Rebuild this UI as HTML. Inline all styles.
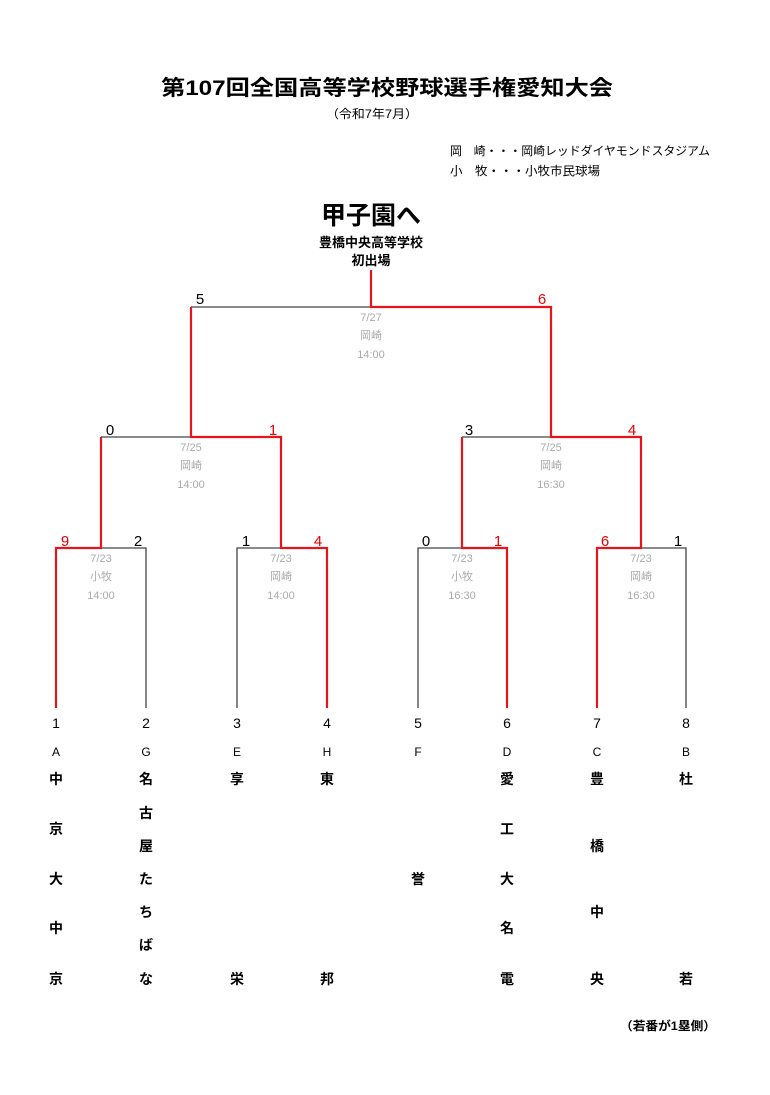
<!DOCTYPE html>
<html><head><meta charset="utf-8">
<style>
html,body{margin:0;padding:0;background:#fff;}
svg{display:block;}
text{font-family:"Liberation Sans","Noto Sans CJK JP",sans-serif;}
.b{font-weight:bold;}
.g{fill:#aaa;font-size:11px;text-anchor:middle;}
.s{font-size:15px;}
.r{fill:#e00;}
.n{font-size:14px;font-weight:bold;text-anchor:middle;}
.c{font-size:14px;text-anchor:middle;}
.l{font-size:12px;text-anchor:middle;}
</style></head><body>
<svg width="770" height="1095" viewBox="0 0 770 1095" xmlns="http://www.w3.org/2000/svg">
<text x="161" y="95" class="b" font-size="21" textLength="452" lengthAdjust="spacingAndGlyphs">第107回全国高等学校野球選手権愛知大会</text>
<text x="326" y="118" font-size="12" textLength="92" lengthAdjust="spacingAndGlyphs">（令和7年7月）</text>
<text x="450" y="155" font-size="12" textLength="260" lengthAdjust="spacingAndGlyphs">岡　崎・・・岡崎レッドダイヤモンドスタジアム</text>
<text x="450" y="175" font-size="12" textLength="150" lengthAdjust="spacingAndGlyphs">小　牧・・・小牧市民球場</text>

<text x="371" y="224" class="b" font-size="25" text-anchor="middle">甲子園へ</text>
<text x="371" y="247" class="b" font-size="13" text-anchor="middle">豊橋中央高等学校</text>
<text x="371" y="265" class="b" font-size="13" text-anchor="middle">初出場</text>

<g stroke="#444" stroke-width="1.3" fill="none">
<!-- first round boxes (black parts) -->
<path d="M56 548 H146 V708"/>
<path d="M237 708 V548 H327"/>
<path d="M418 708 V548 H507"/>
<path d="M597 548 H686 V708"/>
<path d="M101 437 H191"/>
<path d="M462 437 H551"/>
<path d="M191 307 H371"/>
</g>
<g stroke="#e8141b" stroke-width="2.2" fill="none">
<path d="M56 708 V548 H101 V437"/>
<path d="M327 708 V548 H281 V437 H191 V307"/>
<path d="M507 708 V548 H462 V437"/>
<path d="M597 708 V548 H641 V437 H551 V307 H371 V270"/>
</g>

<!-- scores -->
<text x="200" y="304" class="s" text-anchor="middle">5</text>
<text x="542" y="304" class="s r" text-anchor="middle">6</text>
<text x="110" y="435" class="s" text-anchor="middle">0</text>
<text x="273" y="435" class="s r" text-anchor="middle">1</text>
<text x="469" y="435" class="s" text-anchor="middle">3</text>
<text x="632" y="435" class="s r" text-anchor="middle">4</text>
<text x="65" y="546" class="s r" text-anchor="middle">9</text>
<text x="138" y="546" class="s" text-anchor="middle">2</text>
<text x="246" y="546" class="s" text-anchor="middle">1</text>
<text x="318" y="546" class="s r" text-anchor="middle">4</text>
<text x="426" y="546" class="s" text-anchor="middle">0</text>
<text x="498" y="546" class="s r" text-anchor="middle">1</text>
<text x="605" y="546" class="s r" text-anchor="middle">6</text>
<text x="678" y="546" class="s" text-anchor="middle">1</text>

<!-- game info -->
<text x="371" y="321" class="g">7/27</text><text x="371" y="339" class="g">岡崎</text><text x="371" y="358" class="g">14:00</text>
<text x="191" y="451" class="g">7/25</text><text x="191" y="469" class="g">岡崎</text><text x="191" y="488" class="g">14:00</text>
<text x="551" y="451" class="g">7/25</text><text x="551" y="469" class="g">岡崎</text><text x="551" y="488" class="g">16:30</text>
<text x="101" y="562" class="g">7/23</text><text x="101" y="580" class="g">小牧</text><text x="101" y="599" class="g">14:00</text>
<text x="281" y="562" class="g">7/23</text><text x="281" y="580" class="g">岡崎</text><text x="281" y="599" class="g">14:00</text>
<text x="462" y="562" class="g">7/23</text><text x="462" y="580" class="g">小牧</text><text x="462" y="599" class="g">16:30</text>
<text x="641" y="562" class="g">7/23</text><text x="641" y="580" class="g">岡崎</text><text x="641" y="599" class="g">16:30</text>

<!-- numbers and letters -->
<g class="c">
<text x="56" y="728" class="c">1</text><text x="146" y="728" class="c">2</text><text x="237" y="728" class="c">3</text><text x="327" y="728" class="c">4</text>
<text x="418" y="728" class="c">5</text><text x="507" y="728" class="c">6</text><text x="597" y="728" class="c">7</text><text x="686" y="728" class="c">8</text>
</g>
<text x="56" y="756" class="l">A</text><text x="146" y="756" class="l">G</text><text x="237" y="756" class="l">E</text><text x="327" y="756" class="l">H</text>
<text x="418" y="756" class="l">F</text><text x="507" y="756" class="l">D</text><text x="597" y="756" class="l">C</text><text x="686" y="756" class="l">B</text>

<!-- names -->
<text x="56" y="784" class="n">中</text><text x="56" y="834" class="n">京</text><text x="56" y="884" class="n">大</text><text x="56" y="933" class="n">中</text><text x="56" y="984" class="n">京</text>
<text x="146" y="784" class="n">名</text><text x="146" y="818" class="n">古</text><text x="146" y="851" class="n">屋</text><text x="146" y="884" class="n">た</text><text x="146" y="917" class="n">ち</text><text x="146" y="950" class="n">ば</text><text x="146" y="984" class="n">な</text>
<text x="237" y="784" class="n">享</text><text x="237" y="984" class="n">栄</text>
<text x="327" y="784" class="n">東</text><text x="327" y="984" class="n">邦</text>
<text x="418" y="884" class="n">誉</text>
<text x="507" y="784" class="n">愛</text><text x="507" y="834" class="n">工</text><text x="507" y="884" class="n">大</text><text x="507" y="933" class="n">名</text><text x="507" y="984" class="n">電</text>
<text x="597" y="784" class="n">豊</text><text x="597" y="851" class="n">橋</text><text x="597" y="917" class="n">中</text><text x="597" y="984" class="n">央</text>
<text x="686" y="784" class="n">杜</text><text x="686" y="984" class="n">若</text>

<text x="620" y="1030" class="b" font-size="12" textLength="96" lengthAdjust="spacingAndGlyphs">（若番が1塁側）</text>
</svg>
</body></html>
